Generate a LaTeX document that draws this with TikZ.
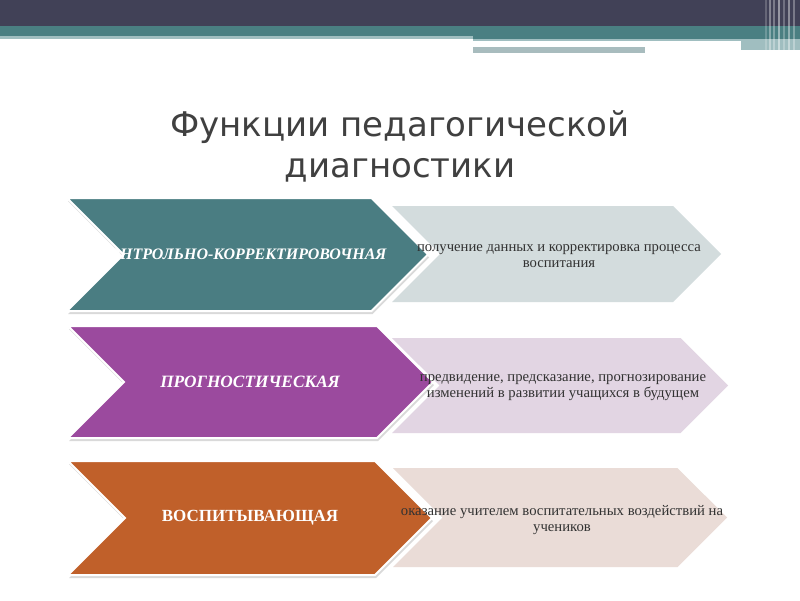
\documentclass[tikz,border=0pt]{standalone}
\usepackage{fontspec}
\setmainfont{Liberation Serif}
\newfontfamily\titlefont{DejaVu Sans}
\usetikzlibrary{shapes.symbols}

\definecolor{bardark}{RGB}{65,65,87}
\definecolor{barteal}{RGB}{74,127,130}
\definecolor{barlight}{RGB}{160,190,192}
\definecolor{bargrey}{RGB}{168,188,190}
\definecolor{tealarr}{RGB}{74,125,130}
\definecolor{purplearr}{RGB}{155,74,158}
\definecolor{orangearr}{RGB}{192,96,42}
\definecolor{greyarr}{RGB}{211,220,221}
\definecolor{lavarr}{RGB}{226,213,227}
\definecolor{pinkarr}{RGB}{234,220,215}
\definecolor{titlegrey}{RGB}{64,64,64}
\definecolor{bodygrey}{RGB}{50,50,50}

\begin{document}
\begin{tikzpicture}[
  x=1pt, y=-1pt,
  chev/.style 2 args={signal, signal from=west, signal to=east, inner sep=0pt,
    minimum width=#1, minimum height=#2},
  box/.style={draw=white, line width=2pt},
  shade/.style={fill=black!15},
  head/.style={font=\titlefont\fontsize{34}{40}\selectfont, text=titlegrey},
  lbl/.style={font=\bfseries\itshape\fontsize{17.3}{20}\selectfont, text=white},
  desc/.style={font=\fontsize{14.7}{16}\selectfont, text=bodygrey, align=center}
]
  \useasboundingbox (0,0) rectangle (800,600);
  \fill[white] (0,0) rectangle (800,600);

  % top bars
  \fill[bardark] (0,0) rectangle (800,26);
  \fill[barteal] (0,26) rectangle (800,36);
  \fill[barlight] (0,36) rectangle (473,39);
  \fill[barteal] (473,36) rectangle (800,39);
  \fill[barlight] (473,39) rectangle (741,41);
  \fill[bargrey] (473,47) rectangle (645,53);
  \fill[barlight] (741,39) rectangle (800,50);
  \foreach \xx/\op in {766/0.2, 770/0.35, 774/0.3, 779/0.45, 784/0.25, 789/0.4, 794/0.3}
    \draw[white, opacity=\op, line width=1.5pt] (\xx,0) -- (\xx,54);

  % title
  \node[head] (ttlone) at (400,127) {Функции педагогической};
  \node[head] (ttltwo) at (400,170) {диагностики};

  % first row
  \node[chev={329}{96}, fill=greyarr] (getdata) at (556.5,254) {};
  \node[chev={361}{113}, shade] (ctrlsh) at (248.5,257.5) {};
  \node[chev={361}{113}, box, fill=tealarr] (ctrl) at (247.5,254.5) {};
  \node[lbl, anchor=east, font=\bfseries\itshape\fontsize{16}{18}\selectfont] (ctrltxt) at (390,254) {КОНТРОЛЬНО-КОРРЕКТИРОВОЧНАЯ};
  \node[desc] (getdatatxt) at (559,256) {получение данных и корректировка процесса\\воспитания};

  % second row
  \node[chev={336}{95}, fill=lavarr] (forecast) at (560,385.5) {};
  \node[chev={365}{112}, shade] (progsh) at (251.5,385) {};
  \node[chev={365}{112}, box, fill=purplearr] (prog) at (250.5,382) {};
  \node[lbl] (progtxt) at (250,382) {ПРОГНОСТИЧЕСКАЯ};
  \node[desc] (forecasttxt) at (563,388) {предвидение, предсказание, прогнозирование\\изменений в развитии учащихся в будущем};

  % third row
  \node[chev={334}{99}, fill=pinkarr] (influence) at (560,517.5) {};
  \node[chev={364}{114}, shade] (educsh) at (251,521) {};
  \node[chev={364}{114}, box, fill=orangearr] (educ) at (250,518) {};
  \node[lbl, font=\bfseries\fontsize{17}{20}\selectfont] (eductxt) at (250,518) {ВОСПИТЫВАЮЩАЯ};
  \node[desc] (influencetxt) at (562,520) {оказание учителем воспитательных воздействий на\\учеников};
\end{tikzpicture}
\end{document}
